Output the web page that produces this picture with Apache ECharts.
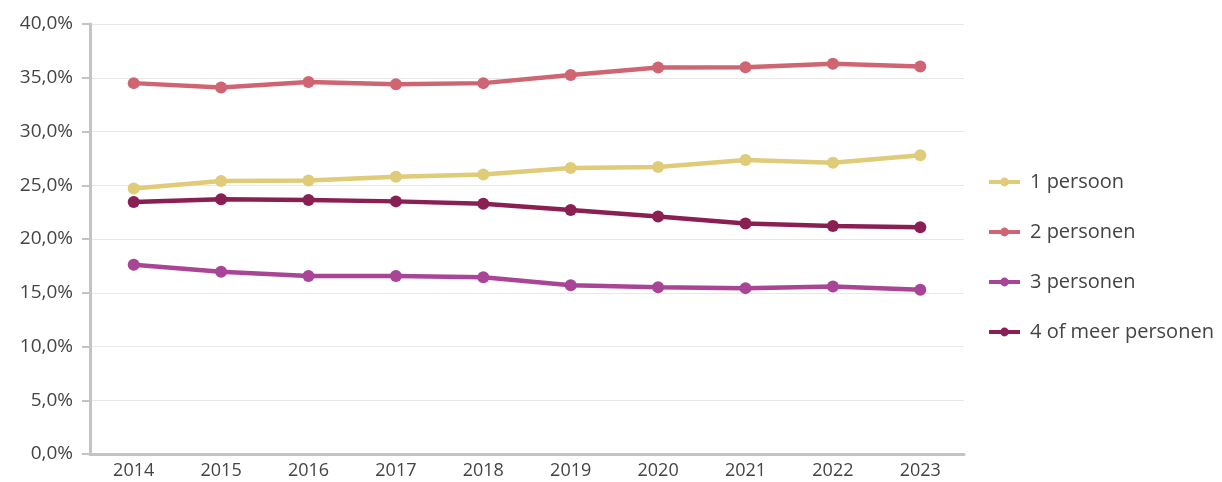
<!DOCTYPE html>
<html>
<head>
<meta charset="utf-8">
<script src="https://cdn.jsdelivr.net/npm/echarts@6/dist/echarts.min.js"></script>
<style>html,body{margin:0;padding:0;background:#fff}#c{width:1222px;height:482px}</style>
</head>
<body>
<div id="c"></div>
<script>
const years = ['2014','2015','2016','2017','2018','2019','2020','2021','2022','2023'];
const seriesNames = ['1 persoon','2 personen','3 personen','4 of meer personen'];
const persoon1 = [24.7, 25.4, 25.45, 25.8, 26.0, 26.6, 26.7, 27.35, 27.1, 27.8];
const personen2 = [34.5, 34.1, 34.6, 34.4, 34.5, 35.25, 35.95, 35.97, 36.3, 36.05];
const personen3 = [17.6, 16.95, 16.55, 16.55, 16.45, 15.7, 15.52, 15.43, 15.58, 15.27];
const personen4 = [23.45, 23.7, 23.62, 23.5, 23.28, 22.7, 22.1, 21.45, 21.2, 21.1];
const colors = ['#DFCB78', '#CF6573', '#A94596', '#8A1F53'];
const font = '"Open Sans", "Noto Sans", sans-serif';

const chart = echarts.init(document.getElementById('c'));
const mk = (name, data, color) => ({
  name, type: 'line', data, color,
  symbol: 'circle', symbolSize: 12,
  lineStyle: { width: 4.5, color },
  itemStyle: { color },
  emphasis: { disabled: true }
});
chart.setOption({
  animation: false,
  grid: { left: 90, right: 258, top: 24, bottom: 28, containLabel: false },
  legend: {
    orient: 'vertical', left: 982, top: 167,
    itemWidth: 31, itemHeight: 11, itemGap: 30,
    lineStyle: { width: 4 },
    textStyle: { fontFamily: font, fontSize: 20, color: '#444', padding: [0, 0, 0, 5] },
    data: seriesNames
  },
  xAxis: {
    type: 'category', data: years, boundaryGap: true,
    axisLine: { lineStyle: { color: '#c4c4c4', width: 3 } },
    axisTick: { alignWithLabel: true, length: 7, lineStyle: { color: '#c4c4c4', width: 2 } },
    axisLabel: { fontFamily: font, fontSize: 18, color: '#444', margin: 8 }
  },
  yAxis: {
    type: 'value', min: 0, max: 40, interval: 5,
    axisLine: { show: true, lineStyle: { color: '#c4c4c4', width: 3 } },
    axisTick: { show: true, length: 8, lineStyle: { color: '#c4c4c4', width: 2 } },
    splitLine: { lineStyle: { color: '#e8e8e8', width: 1 } },
    axisLabel: { fontFamily: font, fontSize: 19, color: '#444', margin: 17,
      formatter: v => v.toFixed(1).replace('.', ',') + '%' }
  },
  series: [
    mk(seriesNames[0], persoon1, colors[0]),
    mk(seriesNames[1], personen2, colors[1]),
    mk(seriesNames[2], personen3, colors[2]),
    mk(seriesNames[3], personen4, colors[3])
  ]
});
</script>
</body>
</html>
